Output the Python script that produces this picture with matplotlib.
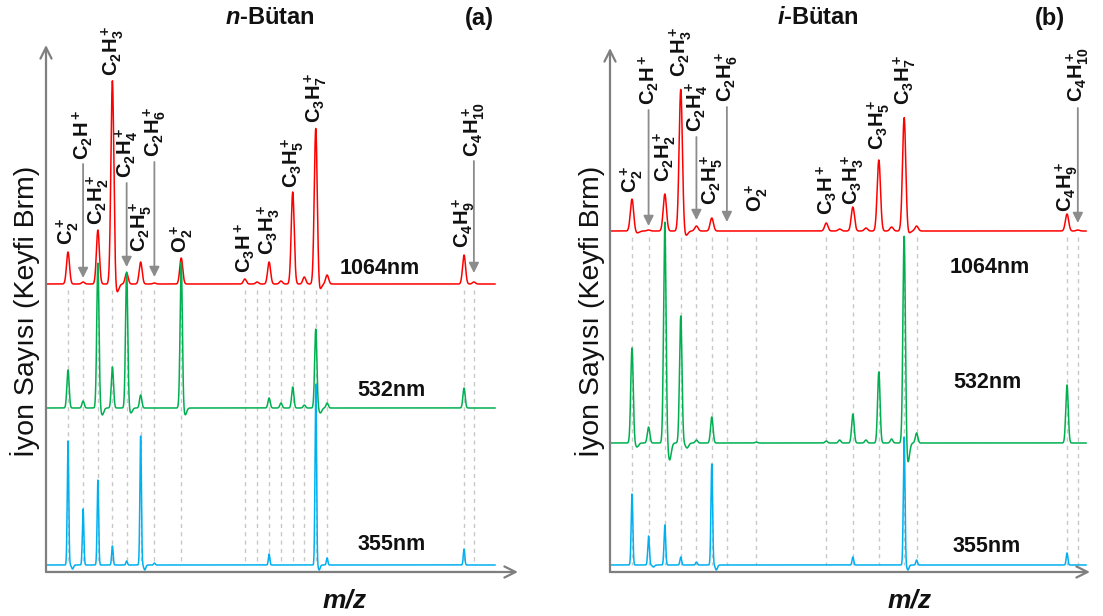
import numpy as np
import matplotlib
matplotlib.use('Agg')
import matplotlib.pyplot as plt

plt.rcParams['font.family'] = ['Liberation Sans', 'DejaVu Sans']
plt.rcParams['mathtext.fontset'] = 'custom'
plt.rcParams['mathtext.rm'] = 'Liberation Sans'
plt.rcParams['mathtext.bf'] = 'Liberation Sans:bold'
plt.rcParams['mathtext.it'] = 'Liberation Sans:bold:italic'

# ---------------- data ----------------
masses = [24, 25, 26, 27, 28, 29, 30, 32, 37, 38, 39, 40, 41, 42, 43, 44, 57, 58]
ion_names = {24: 'C_2^+', 25: 'C_2H^+', 26: 'C_2H_2^+', 27: 'C_2H_3^+', 28: 'C_2H_4^+',
             29: 'C_2H_5^+', 30: 'C_2H_6^+', 32: 'O_2^+', 37: 'C_3H^+', 39: 'C_3H_3^+',
             41: 'C_3H_5^+', 43: 'C_3H_7^+', 57: 'C_4H_9^+', 58: 'C_4H_{10}^+'}
wavelengths = ['1064nm', '532nm', '355nm']
trace_colors = ['#FF0000', '#00B050', '#00B0F0']

# n-butane peak heights (arbitrary units), aligned with masses
n_1064 = [32, 2, 54, 204, 11, 22, 1, 26, 5, 2, 22, 3, 92, 7, 157, 9, 29, 2]
n_532 = [38, 7, 145, 41, 136, 13, 0, 146, 0, 0, 10, 5, 21, 3, 79, 5, 20, 0]
n_355 = [124, 56, 85, 19, 4, 129, 2, 0, 0, 0, 11, 0, 0, 0, 181, 7, 16, 0]
n_dips_1064 = [(27.3, -9), (43.3, -7)]
n_dips_532 = [(26.3, -7), (28.3, -5), (32.3, -7), (43.4, -5)]
n_dips_355 = [(24.3, -4), (29.3, -5), (43.3, -5)]

# i-butane peak heights
i_1064 = [32, 1, 37, 142, 5, 13, 0, 0, 8, 2, 24, 3, 71, 4, 114, 5, 17, 1]
i_532 = [95, 16, 221, 127, 3, 26, 0, 1, 2, 3, 29, 3, 71, 4, 208, 10, 58, 0]
i_355 = [71, 29, 40, 8, 3, 101, 0, 0, 0, 0, 8, 0, 0, 0, 128, 5, 12, 0]
i_dips_1064 = [(24.3, -2), (27.3, -5), (43.3, -3)]
i_dips_532 = [(24.3, -4), (26.3, -17), (27.4, -5), (43.3, -20)]
i_dips_355 = [(25.3, -2), (29.3, -5), (43.3, -5)]

# ---------------- layout (pixel based) ----------------
W, H = 1103, 616
fig = plt.figure(figsize=(W / 100, H / 100), dpi=100)

panels = [
    dict(title_it='n', title_rest='-Bütan', tag='(a)', title_x=270, tag_x=479,
         px0=46, px1=518, ptop=45, scale=149.4, px24=68, px_end=495,
         heights=[n_1064, n_532, n_355], dips=[n_dips_1064, n_dips_532, n_dips_355],
         base_py=[284, 408, 565],
         dashed=[24, 25, 26, 27, 28, 29, 30, 32, 37, 38, 39, 40, 41, 42, 43, 44, 57, 58],
         dash_top=290,
         labels={24: 245, 26: 225, 27: 76, 29: 252, 32: 253, 37: 273, 39: 255,
                 41: 188, 43: 123, 57: 248, 25: 160, 28: 178, 30: 157, 58: 157},
         arrows={25: (164, 278), 28: (183, 267), 30: (162, 277), 58: (161, 273)},
         wl_pos=[(380, 268), (391, 390), (392, 545)],
         ylab_x=25, mz_x=345, blue_rule=True),
    dict(title_it='i', title_rest='-Bütan', tag='(b)', title_x=818, tag_x=1050,
         px0=610, px1=1090, ptop=48, scale=164.1, px24=632, px_end=1086,
         heights=[i_1064, i_532, i_355], dips=[i_dips_1064, i_dips_532, i_dips_355],
         base_py=[231, 443, 565],
         dashed=[24, 25, 26, 27, 28, 29, 30, 32, 37, 39, 41, 43, 44, 57, 58],
         dash_top=237,
         labels={24: 193, 26: 182, 27: 77, 29: 205, 32: 212, 37: 215, 39: 205,
                 41: 150, 43: 105, 57: 212, 25: 105, 28: 132, 30: 102, 58: 102},
         arrows={25: (110, 226), 28: (137, 220), 30: (107, 222), 58: (108, 223)},
         wl_pos=[(990, 267), (987, 383), (987, 546)],
         ylab_x=590, mz_x=910, blue_rule=False),
]

PBOT = 572
sigmas = [0.010, 0.0075, 0.005]

def spectrum(t, ms, hs, dips, sigma):
    y = np.zeros_like(t)
    for m, h in zip(ms, hs):
        y += h * np.exp(-0.5 * ((t - np.sqrt(m)) / sigma) ** 2)
    for m, d in dips:
        y += d * np.exp(-0.5 * ((t - np.sqrt(m)) / (sigma * 1.3)) ** 2)
    return y

axis_gray = '#7F7F7F'
for p in panels:
    ax = fig.add_axes([p['px0'] / W, (H - PBOT) / H, (p['px1'] - p['px0']) / W,
                       (PBOT - p['ptop']) / H])
    t_left = np.sqrt(24) - (p['px24'] - p['px0']) / p['scale']
    t_right = t_left + (p['px1'] - p['px0']) / p['scale']
    t_end = t_left + (p['px_end'] - p['px0']) / p['scale']
    ax.set_xlim(t_left, t_right)
    ax.set_ylim(0, PBOT - p['ptop'])
    ax.axis('off')

    def ypx(py):
        return PBOT - py

    # dashed guide lines
    for m in p['dashed']:
        ax.plot([np.sqrt(m), np.sqrt(m)], [ypx(p['dash_top']), ypx(p['base_py'][2])],
                color='#C8C8C8', lw=1.0, dashes=(3, 3), zorder=1)

    t = np.linspace(t_left, t_end, 5000)
    for k in range(3):
        y = spectrum(t, masses, p['heights'][k], p['dips'][k], sigmas[k]) + ypx(p['base_py'][k])
        ax.plot(t, y, color=trace_colors[k], lw=1.1, zorder=3 + k)

    if p['blue_rule']:
        ax.plot([t_left, t_end], [ypx(571), ypx(571)], color='#4A90D9', lw=0.8, zorder=2)

    # axis arrows
    ax.annotate('', xy=(0, 1), xytext=(0, 0), xycoords='axes fraction',
                arrowprops=dict(arrowstyle='->', color=axis_gray, lw=1.6,
                                mutation_scale=20, shrinkA=0, shrinkB=0), zorder=10)
    ax.annotate('', xy=(1, 0), xytext=(0, 0), xycoords='axes fraction',
                arrowprops=dict(arrowstyle='->', color=axis_gray, lw=1.6,
                                mutation_scale=20, shrinkA=0, shrinkB=0), zorder=10)

    # peak labels
    for m, py in p['labels'].items():
        ax.text(np.sqrt(m), ypx(py), r'$\mathbf{' + ion_names[m] + '}$', rotation=90,
                ha='center', va='bottom', fontsize=14.5, color='#111111', zorder=12)
    for m, (py0, py1) in p['arrows'].items():
        ax.annotate('', xy=(np.sqrt(m), ypx(py1)), xytext=(np.sqrt(m), ypx(py0)),
                    arrowprops=dict(arrowstyle='-|>', color='#8C8C8C', lw=1.3,
                                    mutation_scale=15, shrinkA=0, shrinkB=0), zorder=11)

    # wavelength labels
    for wl, (px, py) in zip(wavelengths, p['wl_pos']):
        fig.text(px / W, 1 - py / H, wl, ha='center', va='center', fontsize=15.5,
                 fontweight='bold', color='#111111')

    # titles
    fig.text(p['title_x'] / W, 1 - 18 / H, r'$\mathit{' + p['title_it'] + '}$' + p['title_rest'],
             ha='center', va='center', fontsize=17, fontweight='bold', color='#111111')
    fig.text(p['tag_x'] / W, 1 - 18 / H, p['tag'], ha='center', va='center',
             fontsize=17, fontweight='bold', color='#111111')
    fig.text(p['ylab_x'] / W, 1 - 311 / H, 'İyon Sayısı (Keyfi Brm)', rotation=90,
             ha='center', va='center', fontsize=20.5, color='#111111')
    fig.text(p['mz_x'] / W, 1 - 600 / H, 'm/z', ha='center', va='center',
             fontsize=19, fontweight='bold', fontstyle='italic', color='#111111')

fig.savefig('out.png', dpi=100, facecolor='white')
